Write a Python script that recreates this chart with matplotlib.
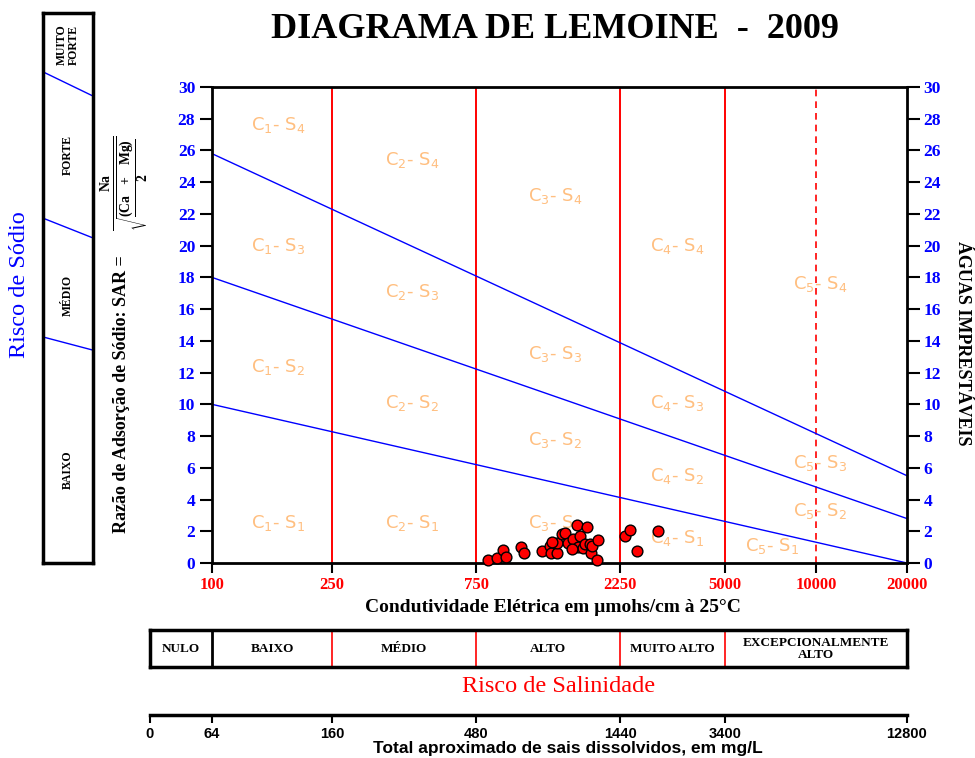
import numpy as np
import matplotlib.pyplot as plt

plt.rcParams['font.family'] = ['Liberation Serif', 'DejaVu Serif']
plt.rcParams['mathtext.fontset'] = 'custom'
plt.rcParams['mathtext.rm'] = 'DejaVu Sans'
plt.rcParams['mathtext.bf'] = 'Liberation Serif:bold'
plt.rcParams['mathtext.default'] = 'regular'

# condutividade elétrica (µmhos/cm a 25°C) e RAS das amostras de 2009
ce = [820, 878, 919, 941, 1055, 1079, 1238, 1316, 1326, 1387, 1387, 1340,
      1442, 1475, 1509, 1567, 1617, 1654, 1745, 1629, 1692, 1718, 1785,
      1799, 1812, 1897, 1883, 1550, 2331, 2421, 2553, 2999]
sar = [0.2, 0.3, 0.8, 0.4, 1.0, 0.6, 0.75, 1.1, 0.6, 0.6, 1.25, 1.3,
       1.8, 1.9, 1.25, 1.5, 2.4, 1.7, 2.3, 1.0, 0.95, 1.2, 1.2,
       0.6, 1.1, 1.45, 0.2, 0.9, 1.7, 2.1, 0.75, 2.0]

# limites das classes de salinidade
ce_ticks = [100, 250, 750, 2250, 5000, 10000, 20000]
ce_bounds = [250, 750, 2250, 5000]
sal_classes = ['NULO', 'BAIXO', 'MÉDIO', 'ALTO', 'MUITO ALTO', 'EXCEPCIONALMENTE\nALTO']
sal_edges = [62.4, 100, 250, 750, 2250, 5000, 20000]
tds_labels = ['0', '64', '160', '480', '1440', '3400', '12800']

# retas de risco de sódio: RAS em CE=100 e em CE=20000
sar_at_100 = [10, 18, 25.8]
sar_at_20000 = [0, 2.8, 5.5]

# rótulos das zonas C-S
zone_c = [1, 1, 1, 1, 2, 2, 2, 2, 3, 3, 3, 3, 4, 4, 4, 4, 5, 5, 5, 5]
zone_s = [4, 3, 2, 1, 4, 3, 2, 1, 4, 3, 2, 1, 4, 3, 2, 1, 4, 3, 2, 1]
zone_x = [165, 165, 165, 165, 459, 459, 459, 459, 1368, 1368, 1368, 1368,
          3467, 3467, 3467, 3467, 10300, 10300, 10300, 7145]
zone_y = [27.6, 20.0, 12.35, 2.5, 25.4, 17.1, 10.1, 2.5, 23.1, 13.2, 7.75, 2.5,
          20.0, 10.1, 5.5, 1.6, 17.6, 6.3, 3.3, 1.1]

sodium_levels = ['BAIXO', 'MÉDIO', 'FORTE', 'MUITO\nFORTE']
sodium_mid = [0.169, 0.487, 0.742, 0.942]
sodium_left = [0.411, 0.627, 0.893]
sodium_right = [0.387, 0.591, 0.849]

W, H = 975, 758
fig = plt.figure(figsize=(W / 100, H / 100), dpi=100)


def px_axes(x0, y0, x1, y1):
    return fig.add_axes([x0 / W, 1 - y1 / H, (x1 - x0) / W, (y1 - y0) / H])


def px_text(x, y, s, **kw):
    fig.text(x / W, 1 - y / H, s, **kw)


# diagrama principal
ax = px_axes(212, 87, 907, 563)
ax.set_xscale('log')
ax.set_xlim(100, 20000)
ax.set_ylim(0, 30)
ax.set_xticks(ce_ticks)
ax.set_xticklabels([str(t) for t in ce_ticks])
ax.minorticks_off()
ax.set_yticks(np.arange(0, 31, 2))
ax.tick_params(axis='y', direction='out', length=9, width=1.5, left=True, right=True,
               labelleft=True, labelright=True, labelcolor='blue', labelsize=12.5, pad=3)
ax.tick_params(axis='x', direction='out', length=7, width=1.5, labelcolor='red',
               labelsize=12, pad=3)
for lab in ax.get_xticklabels() + ax.yaxis.get_ticklabels():
    lab.set_fontweight('bold')
for t in ax.yaxis.get_major_ticks():
    t.label2.set_fontweight('bold')
for sp in ax.spines.values():
    sp.set_linewidth(2)

for c in ce_bounds:
    ax.axvline(c, color='red', lw=1.4)
ax.axvline(10000, color='red', lw=1.2, ls=(0, (4, 3)))

for a, b in zip(sar_at_100, sar_at_20000):
    ax.plot([100, 20000], [a, b], color='blue', lw=1)

for c, s, x, y in zip(zone_c, zone_s, zone_x, zone_y):
    ax.text(x, y, f'C$_{c}$- S$_{s}$', color='#FFBF80', fontsize=13,
            family='DejaVu Sans', ha='center', va='center')

ax.scatter(ce, sar, s=60, c='red', edgecolors='black', linewidths=1,
           zorder=5, clip_on=False)

# título e rótulos
px_text(555, 30, 'DIAGRAMA DE LEMOINE  -  2009', fontsize=26, fontweight='bold',
        ha='center', va='center')
px_text(553, 607, 'Condutividade Elétrica em µmohs/cm à 25°C', fontsize=14,
        fontweight='bold', ha='center', va='center')
px_text(963, 343, 'ÁGUAS IMPRESTÁVEIS', fontsize=13, fontweight='bold',
        rotation=-90, ha='center', va='center')
px_text(20, 285, 'Risco de Sódio', fontsize=17.5, color='blue', rotation=90,
        ha='center', va='center')
px_text(121, 394, 'Razão de Adsorção de Sódio: SAR =', fontsize=13,
        fontweight='bold', rotation=90, ha='center', va='center')
px_text(125, 183, r'$\frac{\mathbf{Na}}{\sqrt{\dfrac{\mathbf{(Ca\ \ +\ \ Mg)}}{\mathbf{2}}}}$',
        fontsize=14, rotation=90, ha='center', va='center')

# escala de risco de sódio
axs = px_axes(43, 13, 93, 563)
axs.set_xlim(0, 1)
axs.set_ylim(0, 1)
axs.set_xticks([])
axs.set_yticks([])
for sp in axs.spines.values():
    sp.set_linewidth(2.5)
for yl, yr in zip(sodium_left, sodium_right):
    axs.plot([0, 1], [yl, yr], color='blue', lw=1)
for name, ym in zip(sodium_levels, sodium_mid):
    axs.text(0.5, ym, name, fontsize=8.5, fontweight='bold', rotation=90,
             ha='center', va='center', linespacing=1.0)

# escala de risco de salinidade
axc = px_axes(150, 630, 907, 667)
axc.set_xscale('log')
axc.set_xlim(sal_edges[0], sal_edges[-1])
axc.set_ylim(0, 1)
axc.set_xticks([])
axc.set_yticks([])
axc.minorticks_off()
for sp in axc.spines.values():
    sp.set_linewidth(2.5)
axc.axvline(sal_edges[1], color='black', lw=2)
for c in sal_edges[2:-1]:
    axc.axvline(c, color='red', lw=1.2)
for name, lo, hi in zip(sal_classes, sal_edges[:-1], sal_edges[1:]):
    axc.text(np.sqrt(lo * hi), 0.5, name, fontsize=9.5, fontweight='bold',
             ha='center', va='center', linespacing=1.0)
px_text(559, 687, 'Risco de Salinidade', fontsize=17.5, color='red',
        ha='center', va='center')

# escala de sólidos totais dissolvidos
axt = px_axes(150, 715, 907, 716)
axt.set_xscale('log')
axt.set_xlim(sal_edges[0], sal_edges[-1])
axt.set_yticks([])
axt.minorticks_off()
for side in ['left', 'right', 'bottom']:
    axt.spines[side].set_visible(False)
axt.spines['top'].set_linewidth(2.5)
axt.set_xticks(sal_edges)
axt.set_xticklabels(tds_labels)
axt.tick_params(axis='x', direction='out', length=5, width=1.5, labelsize=10.5, pad=3)
for lab in axt.get_xticklabels():
    lab.set_fontweight('bold')
    lab.set_family('Liberation Sans')
px_text(568, 748, 'Total aproximado de sais dissolvidos, em mg/L', fontsize=12.5,
        fontweight='bold', family='Liberation Sans', ha='center', va='center')

fig.savefig('out.png', dpi=100)
